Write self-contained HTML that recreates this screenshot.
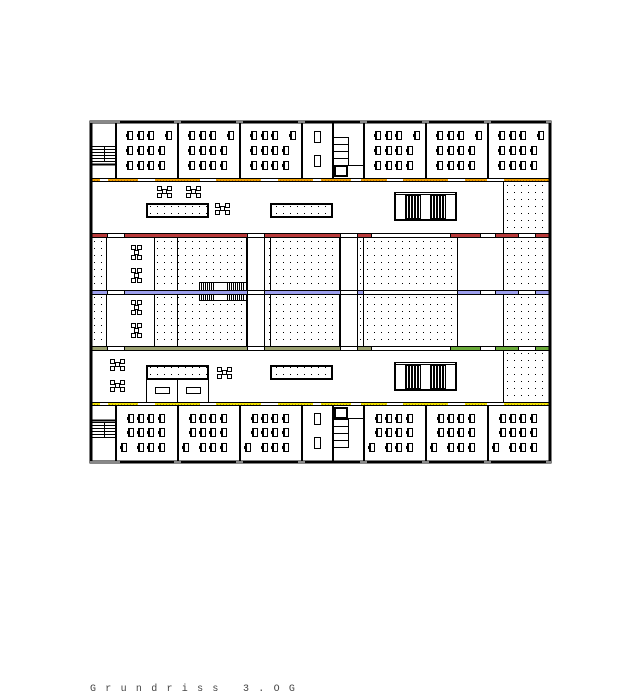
<!DOCTYPE html>
<html><head><meta charset="utf-8"><style>
html,body{margin:0;padding:0;background:#fff;width:638px;height:700px;overflow:hidden}
svg{display:block}
svg *{shape-rendering:crispEdges}
.t{font-family:"Liberation Mono",monospace;font-size:10px;fill:#444;letter-spacing:9.3px}
</style></head><body>
<svg width="638" height="700" viewBox="0 0 638 700" xmlns="http://www.w3.org/2000/svg">
<defs>
<pattern id="dots" width="7" height="7" patternUnits="userSpaceOnUse"><rect x="3" y="3" width="1" height="1" fill="#000"/></pattern>
<pattern id="org" width="3" height="2" patternUnits="userSpaceOnUse"><rect width="3" height="2" fill="#f0a000"/><rect x="1" y="0" width="1" height="1" fill="#c07000"/></pattern>
<pattern id="yel" width="3" height="2" patternUnits="userSpaceOnUse"><rect width="3" height="2" fill="#f0e000"/><rect x="1" y="0" width="1" height="1" fill="#b0a000"/></pattern>
<g id="d"><rect x="0" y="0" width="6" height="9" fill="#000"/><rect x="2" y="1" width="3" height="7" fill="#fff"/><rect x="-1" y="3" width="1" height="3" fill="#000"/></g>
<g id="sq"><rect width="5" height="5" fill="#000"/><rect x="1" y="1" width="3" height="3" fill="#fff"/></g>
<g id="tg"><use href="#sq" x="0" y="0"/><use href="#sq" x="10" y="0"/><use href="#sq" x="0" y="7"/><use href="#sq" x="10" y="7"/><use href="#sq" x="5" y="3"/></g>
<g id="cls">
<use href="#d" x="11" y="10"/><use href="#d" x="22" y="10"/><use href="#d" x="32" y="10"/><use href="#d" x="50" y="10"/>
<use href="#d" x="11" y="25"/><use href="#d" x="22" y="25"/><use href="#d" x="32" y="25"/><use href="#d" x="43" y="25"/>
<use href="#d" x="11" y="40"/><use href="#d" x="22" y="40"/><use href="#d" x="32" y="40"/><use href="#d" x="43" y="40"/>
</g>
<g id="clsb">
<use href="#d" x="12" y="8"/><use href="#d" x="22" y="8"/><use href="#d" x="32" y="8"/><use href="#d" x="43" y="8"/>
<use href="#d" x="12" y="22"/><use href="#d" x="22" y="22"/><use href="#d" x="32" y="22"/><use href="#d" x="43" y="22"/>
<use href="#d" x="5" y="37"/><use href="#d" x="22" y="37"/><use href="#d" x="32" y="37"/><use href="#d" x="43" y="37"/>
</g>
<g id="stair">
<rect x="0" y="0" width="63" height="29" fill="#000"/>
<rect x="2" y="3" width="59" height="24" fill="#fff"/>
<rect x="2" y="1" width="59" height="1" fill="#fff" stroke="none"/>
<rect x="11" y="3" width="16" height="24" fill="#000"/>
<rect x="36" y="3" width="16" height="24" fill="#000"/>
<path d="M13.5 4v22M16.5 4v22M19.5 4v22M22.5 4v22M25.5 4v22M38.5 4v22M41.5 4v22M44.5 4v22M47.5 4v22M50.5 4v22" stroke="#fff" stroke-width="1"/>
</g>
</defs>

<rect x="91" y="122" width="459" height="340" fill="#fff"/>

<g fill="url(#dots)">
<rect x="504" y="181" width="45" height="52"/>
<rect x="504" y="350" width="45" height="52"/>
<rect x="92" y="238" width="14" height="108"/>
<rect x="155" y="238" width="22" height="108"/>
<rect x="178" y="238" width="69" height="108"/>
<rect x="265" y="238" width="75" height="108"/>
<rect x="364" y="238" width="93" height="108"/>
<rect x="504" y="238" width="45" height="108"/>
<rect x="357" y="238" width="6" height="108"/>
</g>

<g fill="#000">
<rect x="106" y="238" width="1" height="108"/><rect x="154" y="238" width="1" height="108"/><rect x="177" y="238" width="1" height="108"/>
<rect x="246" y="238" width="2" height="108"/><rect x="264" y="238" width="1" height="108"/><rect x="270" y="238" width="1" height="108"/>
<rect x="339" y="238" width="2" height="108"/><rect x="357" y="238" width="1" height="108"/><rect x="363" y="238" width="1" height="108"/>
<rect x="457" y="238" width="1" height="108"/><rect x="503" y="181" width="1" height="221"/>
</g>

<g fill="#000">
<rect x="115" y="123" width="2" height="55"/><rect x="177" y="123" width="2" height="55"/><rect x="239" y="123" width="2" height="55"/><rect x="301" y="123" width="2" height="55"/><rect x="332" y="123" width="2" height="55"/><rect x="363" y="123" width="2" height="55"/><rect x="425" y="123" width="2" height="55"/><rect x="487" y="123" width="2" height="55"/>
<rect x="115" y="406" width="2" height="55"/><rect x="177" y="406" width="2" height="55"/><rect x="239" y="406" width="2" height="55"/><rect x="301" y="406" width="2" height="55"/><rect x="332" y="406" width="2" height="55"/><rect x="363" y="406" width="2" height="55"/><rect x="425" y="406" width="2" height="55"/><rect x="487" y="406" width="2" height="55"/>
</g>

<use href="#cls" x="116" y="121"/><use href="#cls" x="178" y="121"/><use href="#cls" x="240" y="121"/>
<use href="#cls" x="364" y="121"/><use href="#cls" x="426" y="121"/><use href="#cls" x="488" y="121"/>
<use href="#clsb" x="116" y="406"/><use href="#clsb" x="178" y="406"/><use href="#clsb" x="240" y="406"/>
<use href="#clsb" x="364" y="406"/><use href="#clsb" x="426" y="406"/><use href="#clsb" x="488" y="406"/>

<g fill="#fff" stroke="#000" stroke-width="1">
<rect x="314.5" y="131.5" width="6" height="11"/><rect x="314.5" y="155.5" width="6" height="11"/>
<rect x="314.5" y="413.5" width="6" height="11"/><rect x="314.5" y="437.5" width="6" height="11"/>
<rect x="333.5" y="137.5" width="15" height="28"/><rect x="335" y="166" width="12" height="10" stroke-width="2"/>
<rect x="333.5" y="419.5" width="15" height="28"/><rect x="335" y="408" width="12" height="10" stroke-width="2"/>
</g>
<path d="M333 144.5h15M333 151.5h15M333 158.5h15M348 165.5h16M333 426.5h15M333 433.5h15M333 440.5h15M348 418.5h16" stroke="#000"/>
<g stroke="#000" stroke-width="1">
<path d="M92 146.5h23M92 149.5h23M92 152.5h23M92 155.5h23M92 158.5h23M92 161.5h23M104.5 147v15"/>
<path d="M92 422.5h23M92 425.5h23M92 428.5h23M92 431.5h23M92 434.5h23M92 437.5h23M104.5 423v15"/>
<path d="M91 164.5h25M91 420.5h25" stroke-width="2"/>
</g>

<use href="#tg" x="157" y="186"/><use href="#tg" x="186" y="186"/><use href="#tg" x="215" y="203"/>
<rect x="147" y="204" width="61" height="13" fill="url(#dots)" stroke="#000" stroke-width="2"/>
<rect x="271" y="204" width="61" height="13" fill="url(#dots)" stroke="#000" stroke-width="2"/>
<use href="#stair" x="394" y="192"/>

<use href="#tg" x="110" y="359"/><use href="#tg" x="110" y="380"/><use href="#tg" x="217" y="367"/>
<rect x="147" y="366" width="61" height="13" fill="url(#dots)" stroke="#000" stroke-width="2"/>
<rect x="271" y="366" width="61" height="13" fill="url(#dots)" stroke="#000" stroke-width="2"/>
<path d="M146.5 380v23M177.5 380v23M208.5 380v23" stroke="#000" stroke-width="1"/>
<rect x="155.5" y="387.5" width="14" height="6" fill="#fff" stroke="#000"/><rect x="186.5" y="387.5" width="14" height="6" fill="#fff" stroke="#000"/>
<use href="#stair" x="394" y="362"/>

<use href="#sq" x="131" y="245"/><use href="#sq" x="137" y="245"/><use href="#sq" x="134" y="250"/><use href="#sq" x="131" y="255"/><use href="#sq" x="137" y="255"/>
<use href="#sq" x="131" y="268"/><use href="#sq" x="137" y="268"/><use href="#sq" x="134" y="273"/><use href="#sq" x="131" y="278"/><use href="#sq" x="137" y="278"/>
<use href="#sq" x="131" y="300"/><use href="#sq" x="137" y="300"/><use href="#sq" x="134" y="305"/><use href="#sq" x="131" y="310"/><use href="#sq" x="137" y="310"/>
<use href="#sq" x="131" y="323"/><use href="#sq" x="137" y="323"/><use href="#sq" x="134" y="328"/><use href="#sq" x="131" y="333"/><use href="#sq" x="137" y="333"/>

<rect x="199.5" y="282.5" width="47" height="18" fill="#fff" stroke="#000"/>
<path d="M201.5 282v18M203.5 282v18M205.5 282v18M207.5 282v18M209.5 282v18M211.5 282v18M213.5 282v18M227.5 282v18M229.5 282v18M231.5 282v18M233.5 282v18M235.5 282v18M237.5 282v18M239.5 282v18M241.5 282v18M243.5 282v18" stroke="#000"/>

<g stroke="#000" stroke-width="1">
<rect x="91" y="178.5" width="459" height="3" fill="#fff"/>
<rect x="91" y="233.5" width="459" height="4" fill="#fff"/>
<rect x="91" y="290.5" width="459" height="4" fill="#fff"/>
<rect x="91" y="346.5" width="459" height="4" fill="#fff"/>
<rect x="91" y="402.5" width="459" height="3" fill="#fff"/>
</g>
<g fill="url(#org)">
<rect x="92" y="179" width="8" height="2"/><rect x="108" y="179" width="30" height="2"/><rect x="155" y="179" width="45" height="2"/><rect x="216" y="179" width="45" height="2"/><rect x="278" y="179" width="35" height="2"/><rect x="321" y="179" width="30" height="2"/><rect x="361" y="179" width="26" height="2"/><rect x="403" y="179" width="45" height="2"/><rect x="465" y="179" width="22" height="2"/><rect x="504" y="179" width="46" height="2"/>
</g>
<g fill="url(#yel)">
<rect x="92" y="403" width="8" height="2"/><rect x="108" y="403" width="30" height="2"/><rect x="155" y="403" width="45" height="2"/><rect x="216" y="403" width="45" height="2"/><rect x="278" y="403" width="35" height="2"/><rect x="321" y="403" width="30" height="2"/><rect x="361" y="403" width="26" height="2"/><rect x="403" y="403" width="45" height="2"/><rect x="465" y="403" width="22" height="2"/><rect x="504" y="403" width="46" height="2"/>
</g>
<g fill="#b83a3a" stroke="#000" stroke-width="1">
<rect x="91.5" y="233.5" width="16" height="4"/><rect x="124.5" y="233.5" width="123" height="4"/><rect x="264.5" y="233.5" width="76" height="4"/><rect x="357.5" y="233.5" width="14" height="4"/><rect x="450.5" y="233.5" width="30" height="4"/><rect x="495.5" y="233.5" width="23" height="4"/><rect x="535.5" y="233.5" width="14" height="4"/>
</g>
<g fill="#9ea0ee" stroke="#000" stroke-width="1">
<rect x="91.5" y="290.5" width="16" height="4"/><rect x="124.5" y="290.5" width="123" height="4"/><rect x="264.5" y="290.5" width="76" height="4"/><rect x="357.5" y="290.5" width="6" height="4"/><rect x="457.5" y="290.5" width="23" height="4"/><rect x="495.5" y="290.5" width="23" height="4"/><rect x="535.5" y="290.5" width="14" height="4"/>
</g>
<g fill="#6aaa3a" stroke="#000" stroke-width="1">
<rect x="91.5" y="346.5" width="16" height="4" fill="#9aa070"/><rect x="124.5" y="346.5" width="123" height="4" fill="#9aa070"/><rect x="264.5" y="346.5" width="76" height="4" fill="#9aa070"/><rect x="357.5" y="346.5" width="14" height="4" fill="#9aa070"/><rect x="450.5" y="346.5" width="30" height="4"/><rect x="495.5" y="346.5" width="23" height="4"/><rect x="535.5" y="346.5" width="14" height="4"/>
</g>

<rect x="91" y="122" width="459" height="340" fill="none" stroke="#000" stroke-width="3"/>
<g fill="#888">
<rect x="90" y="120" width="30" height="3"/><rect x="174" y="120" width="7" height="3"/><rect x="236" y="120" width="7" height="3"/><rect x="298" y="120" width="7" height="3"/><rect x="360" y="120" width="7" height="3"/><rect x="422" y="120" width="7" height="3"/><rect x="484" y="120" width="7" height="3"/><rect x="546" y="120" width="5" height="3"/>
<rect x="90" y="461" width="30" height="3"/><rect x="174" y="461" width="7" height="3"/><rect x="236" y="461" width="7" height="3"/><rect x="298" y="461" width="7" height="3"/><rect x="360" y="461" width="7" height="3"/><rect x="422" y="461" width="7" height="3"/><rect x="484" y="461" width="7" height="3"/><rect x="546" y="461" width="5" height="3"/>
</g>

<text class="t" x="90" y="691">Grundriss   3.OG</text>
</svg>
</body></html>
